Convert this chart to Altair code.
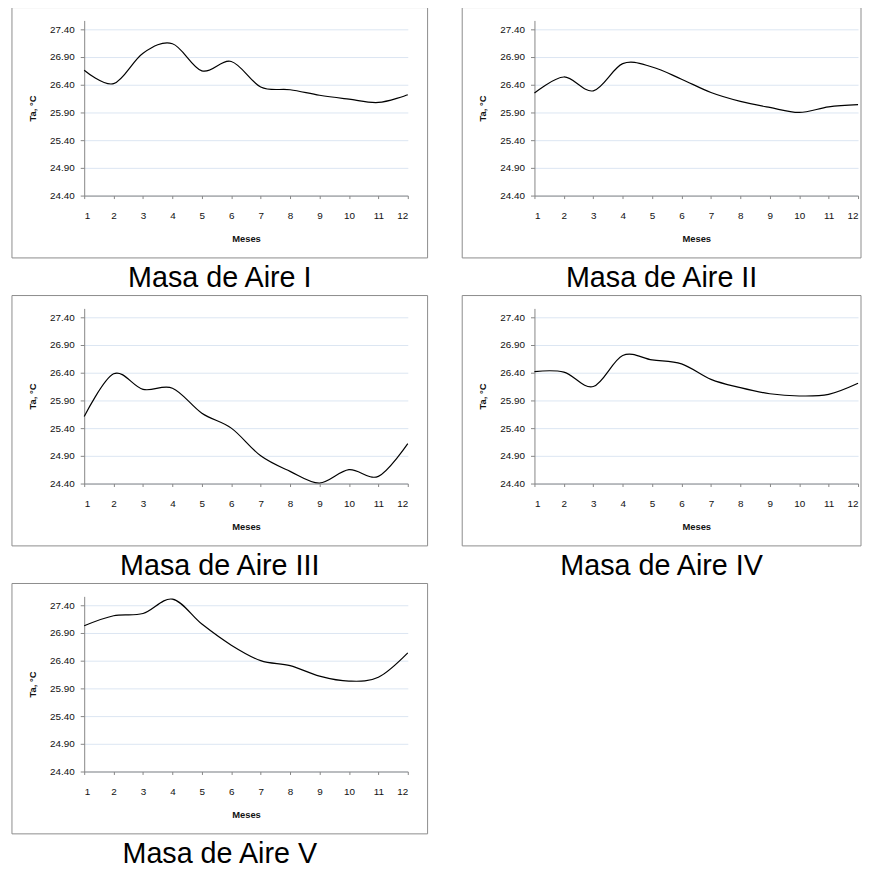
import altair as alt
import pandas as pd

meses = list(range(1, 13))
masa_I = [26.66, 26.42, 26.97, 27.14, 26.65, 26.82, 26.36, 26.31, 26.21, 26.14, 26.08, 26.22]
masa_II = [26.25, 26.54, 26.29, 26.78, 26.72, 26.50, 26.26, 26.10, 25.99, 25.90, 26.00, 26.04]
masa_III = [25.61, 26.38, 26.10, 26.12, 25.67, 25.40, 24.90, 24.62, 24.41, 24.65, 24.53, 25.12]
masa_IV = [26.42, 26.41, 26.15, 26.71, 26.63, 26.56, 26.28, 26.13, 26.02, 25.98, 26.01, 26.21]
masa_V = [27.03, 27.21, 27.25, 27.51, 27.06, 26.68, 26.40, 26.31, 26.12, 26.03, 26.10, 26.54]

y_ticks = [24.40, 24.90, 25.40, 25.90, 26.40, 26.90, 27.40]
captions = ["Masa de Aire I", "Masa de Aire II", "Masa de Aire III", "Masa de Aire IV", "Masa de Aire V"]

W, H = 327, 177
Y_DOMAIN = [24.4, 27.56]
FONT = "Liberation Sans"


def panel(values, caption, frame_right=347):
    df = pd.DataFrame({"Mes": meses, "Ta": values})
    line = alt.Chart(df).mark_line(
        color="black", strokeWidth=1.2, interpolate="cardinal"
    ).encode(
        x=alt.X(
            "Mes:Q",
            scale=alt.Scale(domain=[1, 12], nice=False, zero=False),
            axis=alt.Axis(
                values=meses, format="d", title="Meses", grid=False,
                tickSize=3, labelPadding=12, titlePadding=13,
            ),
        ),
        y=alt.Y(
            "Ta:Q",
            scale=alt.Scale(domain=Y_DOMAIN, nice=False, zero=False),
            axis=alt.Axis(
                values=y_ticks, format=".2f", title="Ta, °C", grid=True,
                tickSize=4, labelPadding=6, titlePadding=12,
            ),
        ),
    )
    frame = alt.Chart(alt.Data(values=[{}])).mark_rect(
        filled=False, stroke="#8c8c8c", strokeWidth=1
    ).encode(
        x=alt.value(-73), x2=alt.value(frame_right),
        y=alt.value(-13), y2=alt.value(240),
    )
    return alt.layer(frame, line).properties(
        width=W, height=H,
        title=alt.TitleParams(
            caption, orient="bottom", anchor="middle", frame="bounds",
            fontSize=29, font=FONT, fontWeight="normal", color="black", offset=6,
        ),
    )


p1 = panel(masa_I, captions[0])
p2 = panel(masa_II, captions[1], frame_right=330)
p3 = panel(masa_III, captions[2])
p4 = panel(masa_IV, captions[3], frame_right=330)
p5 = panel(masa_V, captions[4])

chart = alt.vconcat(
    alt.hconcat(p1, p2, spacing=33),
    alt.hconcat(p3, p4, spacing=33),
    p5,
    spacing=1,
).properties(
    padding={"left": 3, "top": -6, "right": 0, "bottom": 0}
).configure_view(
    stroke=None
).configure_axis(
    domainColor="#868686", tickColor="#868686",
    labelFont=FONT, labelFontSize=10, labelColor="#111111",
    titleFont=FONT, titleFontSize=9.5, titleFontWeight="bold", titleColor="#111111",
    gridColor="#dce6f2", gridWidth=1,
)

chart.save("out.html", embed_options={"renderer": "svg", "actions": False})
